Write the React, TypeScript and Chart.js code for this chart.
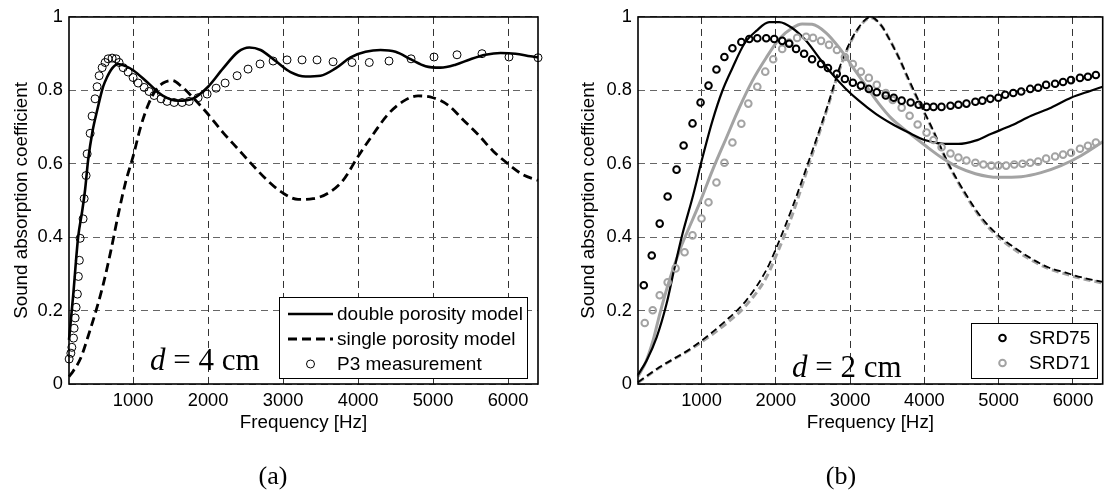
import React, { useEffect, useRef } from 'react';
import { Chart, registerables } from 'chart.js';

Chart.register(...registerables);

const FONT = '"Liberation Sans", Arial, Helvetica, sans-serif';
const SERIF = '"Liberation Serif", "Times New Roman", serif';

// ---------- axes ----------
const xTicks = [1000, 2000, 3000, 4000, 5000, 6000];
const yTicks = [0, 0.2, 0.4, 0.6, 0.8, 1];
const xMin = 145;
const xMax = 6400;
const xTitle = 'Frequency [Hz]';
const yTitle = 'Sound absorption coefficient';

// ---------- panel (a) ----------
const aDoubleF = [145, 200, 267, 320, 360, 400, 460, 520, 600, 650, 720, 800, 900, 1000, 1200, 1400, 1600, 1800, 2000, 2200, 2400, 2550, 2700, 2900, 3100, 3300, 3500, 3700, 3900, 4100, 4300, 4500, 4700, 4900, 5100, 5300, 5500, 5700, 5900, 6100, 6300, 6400];
const aDoubleV = [0.12, 0.24, 0.40, 0.47, 0.53, 0.61, 0.69, 0.745, 0.81, 0.835, 0.86, 0.872, 0.866, 0.855, 0.82, 0.785, 0.772, 0.778, 0.81, 0.86, 0.905, 0.917, 0.91, 0.88, 0.85, 0.838, 0.84, 0.86, 0.89, 0.905, 0.91, 0.905, 0.885, 0.866, 0.862, 0.87, 0.885, 0.897, 0.902, 0.9, 0.893, 0.89];

const aSingleF = [145, 200, 300, 400, 520, 600, 700, 800, 900, 1000, 1100, 1200, 1300, 1400, 1520, 1650, 1800, 2000, 2200, 2400, 2600, 2800, 3000, 3200, 3400, 3600, 3800, 4000, 4200, 4400, 4600, 4800, 5000, 5200, 5400, 5600, 5800, 6000, 6200, 6400];
const aSingleV = [0.02, 0.035, 0.07, 0.13, 0.21, 0.27, 0.36, 0.46, 0.55, 0.62, 0.70, 0.76, 0.80, 0.82, 0.827, 0.81, 0.78, 0.735, 0.685, 0.64, 0.595, 0.553, 0.52, 0.503, 0.505, 0.52, 0.555, 0.62, 0.68, 0.735, 0.77, 0.785, 0.78, 0.76, 0.72, 0.68, 0.635, 0.6, 0.57, 0.555];

const aP3F = [147, 170, 183, 205, 213, 227, 240, 257, 270, 283, 293, 333, 347, 373, 387, 427, 453, 493, 520, 547, 587, 627, 667, 720, 773, 813, 867, 933, 1000, 1067, 1147, 1213, 1280, 1373, 1453, 1547, 1653, 1747, 1867, 1987, 2107, 2227, 2387, 2533, 2693, 2867, 3053, 3253, 3453, 3667, 3920, 4150, 4413, 4707, 5013, 5320, 5653, 6013, 6400];
const aP3V = [0.068, 0.084, 0.10, 0.125, 0.152, 0.18, 0.209, 0.245, 0.293, 0.337, 0.397, 0.45, 0.505, 0.568, 0.627, 0.683, 0.73, 0.777, 0.81, 0.84, 0.862, 0.876, 0.886, 0.888, 0.886, 0.876, 0.862, 0.85, 0.835, 0.82, 0.808, 0.797, 0.786, 0.777, 0.77, 0.767, 0.767, 0.77, 0.78, 0.79, 0.806, 0.82, 0.84, 0.858, 0.872, 0.88, 0.883, 0.883, 0.883, 0.878, 0.876, 0.876, 0.88, 0.886, 0.891, 0.897, 0.9, 0.891, 0.889];

// ---------- panel (b) ----------
const bSrd75F = [223, 330, 437, 544, 664, 759, 879, 987, 1094, 1201, 1308, 1416, 1536, 1643, 1751, 1871, 1979, 2086, 2180, 2273, 2381, 2488, 2609, 2702, 2820, 2930, 3037, 3145, 3252, 3359, 3480, 3587, 3694, 3815, 3922, 4029, 4123, 4230, 4351, 4458, 4566, 4686, 4780, 4887, 4995, 5088, 5196, 5303, 5424, 5531, 5638, 5759, 5866, 5973, 6094, 6201, 6308];
const bSrd75V = [0.269, 0.35, 0.437, 0.511, 0.584, 0.65, 0.71, 0.767, 0.813, 0.857, 0.891, 0.915, 0.932, 0.94, 0.942, 0.942, 0.94, 0.935, 0.927, 0.913, 0.9, 0.885, 0.872, 0.861, 0.845, 0.831, 0.821, 0.813, 0.804, 0.795, 0.786, 0.78, 0.772, 0.767, 0.761, 0.755, 0.755, 0.755, 0.758, 0.761, 0.764, 0.769, 0.772, 0.777, 0.78, 0.788, 0.793, 0.797, 0.804, 0.807, 0.815, 0.818, 0.823, 0.828, 0.834, 0.837, 0.842];

const bSrd71F = [236, 343, 437, 544, 651, 772, 879, 1000, 1094, 1201, 1308, 1416, 1536, 1630, 1751, 1858, 1965, 2086, 2180, 2287, 2408, 2501, 2609, 2716, 2823, 2930, 3037, 3145, 3252, 3359, 3480, 3574, 3694, 3801, 3909, 4029, 4123, 4231, 4351, 4458, 4566, 4686, 4794, 4901, 4995, 5100, 5210, 5320, 5424, 5531, 5638, 5759, 5866, 5973, 6094, 6201, 6308];
const bSrd71V = [0.166, 0.201, 0.242, 0.277, 0.315, 0.359, 0.405, 0.451, 0.495, 0.549, 0.603, 0.658, 0.709, 0.764, 0.81, 0.851, 0.885, 0.913, 0.93, 0.943, 0.946, 0.943, 0.935, 0.924, 0.91, 0.891, 0.872, 0.851, 0.834, 0.815, 0.793, 0.774, 0.753, 0.731, 0.707, 0.685, 0.665, 0.645, 0.628, 0.617, 0.609, 0.603, 0.598, 0.595, 0.595, 0.595, 0.598, 0.6, 0.603, 0.606, 0.614, 0.62, 0.625, 0.63, 0.641, 0.649, 0.658];

const bModel75F = [145, 263, 397, 531, 638, 745, 879, 1013, 1147, 1281, 1416, 1576, 1737, 1911, 2046, 2220, 2408, 2582, 2756, 2944, 3118, 3346, 3560, 3788, 4016, 4231, 4458, 4686, 4901, 5169, 5437, 5705, 5973, 6241, 6400];
const bModel75V = [0.025, 0.065, 0.128, 0.22, 0.318, 0.41, 0.508, 0.617, 0.717, 0.799, 0.861, 0.927, 0.962, 0.986, 0.986, 0.97, 0.935, 0.889, 0.845, 0.804, 0.772, 0.736, 0.709, 0.685, 0.664, 0.655, 0.654, 0.663, 0.682, 0.704, 0.731, 0.753, 0.78, 0.799, 0.81];

const bModel71F = [145, 250, 350, 437, 571, 705, 799, 973, 1147, 1335, 1509, 1684, 1871, 2046, 2220, 2354, 2488, 2676, 2850, 3024, 3212, 3386, 3560, 3788, 4016, 4231, 4458, 4686, 4995, 5303, 5571, 5839, 6107, 6400];
const bModel71V = [0.02, 0.06, 0.12, 0.19, 0.285, 0.364, 0.41, 0.492, 0.582, 0.671, 0.753, 0.826, 0.889, 0.94, 0.97, 0.981, 0.98, 0.957, 0.917, 0.867, 0.813, 0.764, 0.723, 0.685, 0.649, 0.617, 0.59, 0.573, 0.563, 0.565, 0.576, 0.595, 0.622, 0.66];

const bSingle75F = [145, 437, 879, 1335, 1603, 1871, 2005, 2220, 2448, 2676, 2890, 3078, 3280, 3426, 3500, 3654, 3800, 3922, 4097, 4324, 4552, 4767, 4995, 5223, 5437, 5665, 5893, 6107, 6400];
const bSingle75V = [0.005, 0.046, 0.10, 0.174, 0.228, 0.31, 0.37, 0.48, 0.61, 0.745, 0.88, 0.96, 1.0, 0.975, 0.95, 0.89, 0.825, 0.772, 0.70, 0.6, 0.519, 0.454, 0.405, 0.37, 0.342, 0.318, 0.304, 0.291, 0.278];

const bSingle71F = [145, 437, 879, 1335, 1603, 1871, 2005, 2220, 2448, 2676, 2890, 3078, 3280, 3426, 3500, 3654, 3800, 3922, 4097, 4324, 4552, 4767, 4995, 5223, 5437, 5665, 5893, 6107, 6400];
const bSingle71V = [0.004, 0.045, 0.098, 0.165, 0.215, 0.29, 0.35, 0.46, 0.60, 0.74, 0.875, 0.958, 0.998, 0.975, 0.95, 0.89, 0.822, 0.77, 0.698, 0.598, 0.516, 0.45, 0.4, 0.365, 0.338, 0.315, 0.3, 0.288, 0.275];

type Series = {
  label: string;
  f: number[];
  v: number[];
  color: string;
  width: number;
  dash?: number[];
  points?: boolean;
  radius?: number;
  order: number;
};

const GRAY = '#a3a3a3';

const seriesA: Series[] = [
  { label: 'double porosity model', f: aDoubleF, v: aDoubleV, color: '#000', width: 2.6, order: 2 },
  { label: 'single porosity model', f: aSingleF, v: aSingleV, color: '#000', width: 2.8, dash: [9, 5], order: 3 },
  { label: 'P3 measurement', f: aP3F, v: aP3V, color: '#000', width: 1, points: true, radius: 4, order: 1 },
];

const seriesB: Series[] = [
  { label: 'SRD75', f: bSrd75F, v: bSrd75V, color: '#000', width: 2, points: true, radius: 3.3, order: 1 },
  { label: 'SRD71', f: bSrd71F, v: bSrd71V, color: GRAY, width: 2, points: true, radius: 3.3, order: 2 },
  { label: 'SRD75 model', f: bModel75F, v: bModel75V, color: '#000', width: 2.2, order: 3 },
  { label: 'SRD71 model', f: bModel71F, v: bModel71V, color: GRAY, width: 3, order: 4 },
  { label: 'SRD75 single', f: bSingle75F, v: bSingle75V, color: '#000', width: 1.8, dash: [7, 4], order: 5 },
  { label: 'SRD71 single', f: bSingle71F, v: bSingle71V, color: GRAY, width: 3, dash: [7, 4], order: 6 },
];

type LegendCfg = { items: number[]; right: number; bottom: number; width: number; height: number; firstRow: number; rowGap: number };

type PanelProps = {
  left: number;
  width: number;
  series: Series[];
  yAxisW: number;
  yTitlePad: number;
  padRight: number;
  legend: LegendCfg;
  noteRest: string;
  noteDx: number;
  noteDy: number;
  tag: string;
  tagDx: number;
};

function makeDecor(p: PanelProps) {
  return {
    id: 'decor',
    afterDatasetsDraw(chart: any) {
      const ctx: CanvasRenderingContext2D = chart.ctx;
      const a = chart.chartArea;
      ctx.save();
      // annotation d = .. cm
      ctx.fillStyle = '#000';
      ctx.textAlign = 'left';
      ctx.textBaseline = 'alphabetic';
      let x = a.left + p.noteDx;
      const by0 = a.bottom - p.noteDy;
      ctx.font = `italic 31px ${SERIF}`;
      ctx.fillText('d', x, by0);
      x += ctx.measureText('d').width;
      ctx.font = `31px ${SERIF}`;
      ctx.fillText(p.noteRest, x, by0);

      // legend box
      const L = p.legend;
      const bx = Math.round(a.right - L.right - L.width);
      const by = Math.round(a.bottom - L.bottom - L.height);
      ctx.fillStyle = '#fff';
      ctx.fillRect(bx, by, L.width, L.height);
      ctx.lineWidth = 1;
      ctx.strokeStyle = '#000';
      ctx.setLineDash([]);
      ctx.strokeRect(bx + 0.5, by + 0.5, L.width, L.height);
      L.items.forEach((idx, i) => {
        const ds = chart.data.datasets[idx];
        const cy = by + L.firstRow + i * L.rowGap;
        if (ds.showLine !== false) {
          ctx.beginPath();
          ctx.setLineDash(ds.borderDash || []);
          ctx.lineWidth = ds.borderWidth;
          ctx.strokeStyle = ds.borderColor;
          ctx.moveTo(bx + 9, cy);
          ctx.lineTo(bx + 54, cy);
          ctx.stroke();
          ctx.setLineDash([]);
        }
        if (ds.pointRadius > 0) {
          ctx.beginPath();
          ctx.lineWidth = ds.pointBorderWidth;
          ctx.strokeStyle = ds.pointBorderColor;
          ctx.arc(bx + 31.5, cy, ds.pointRadius, 0, Math.PI * 2);
          ctx.stroke();
        }
        ctx.fillStyle = '#000';
        ctx.font = `19px ${FONT}`;
        ctx.textBaseline = 'middle';
        ctx.fillText(ds.label, bx + 58, cy + 1);
      });
      ctx.restore();
    },
    afterDraw(chart: any) {
      const ctx: CanvasRenderingContext2D = chart.ctx;
      const a = chart.chartArea;
      ctx.save();
      ctx.setLineDash([]);
      ctx.lineWidth = 1.6;
      ctx.strokeStyle = '#000';
      ctx.strokeRect(a.left, a.top, a.right - a.left, a.bottom - a.top);
      ctx.fillStyle = '#000';
      ctx.font = `26px ${SERIF}`;
      ctx.textAlign = 'center';
      ctx.textBaseline = 'middle';
      ctx.fillText(p.tag, a.left + p.tagDx, 477);
      ctx.restore();
    },
  };
}

function Panel(p: PanelProps) {
  const ref = useRef<HTMLCanvasElement | null>(null);
  useEffect(() => {
    if (!ref.current) return;
    const datasets = p.series.map((s) => ({
      label: s.label,
      data: s.f.map((fv, i) => ({ x: fv, y: s.v[i] })),
      borderColor: s.color,
      backgroundColor: 'rgba(0,0,0,0)',
      borderWidth: s.width,
      borderDash: s.dash || [],
      showLine: !s.points,
      pointRadius: s.points ? s.radius : 0,
      pointHoverRadius: 0,
      pointBorderWidth: s.points ? s.width : 0,
      pointBorderColor: s.color,
      pointBackgroundColor: 'rgba(0,0,0,0)',
      cubicInterpolationMode: 'monotone',
      fill: false,
      clip: false,
      order: s.order,
    }));
    const chart = new Chart(ref.current, {
      type: 'line',
      data: { datasets: datasets as any },
      options: {
        animation: false,
        responsive: false,
        events: [],
        layout: { padding: { left: 0, top: 16, right: p.padRight, bottom: 0 } },
        plugins: { legend: { display: false }, tooltip: { enabled: false } },
        scales: {
          x: {
            type: 'linear',
            min: xMin,
            max: xMax,
            afterBuildTicks: (axis: any) => {
              axis.ticks = xTicks.map((v) => ({ value: v }));
            },
            afterFit: (scale: any) => {
              scale.height = 107;
            },
            ticks: {
              autoSkip: false,
              maxRotation: 0,
              padding: 6,
              color: '#000',
              font: { family: FONT, size: 18.3 },
              callback: (v: any) => String(v),
            },
            grid: { color: '#333', lineWidth: 1, drawTicks: false },
            border: { display: false, dash: [7, 5] },
            title: {
              display: true,
              text: xTitle,
              color: '#000',
              font: { family: FONT, size: 18.8 },
              padding: { top: 0, bottom: 57 },
            },
          },
          y: {
            type: 'linear',
            min: 0,
            max: 1,
            afterBuildTicks: (axis: any) => {
              axis.ticks = yTicks.map((v) => ({ value: v }));
            },
            afterFit: (scale: any) => {
              scale.width = p.yAxisW;
            },
            ticks: {
              padding: 6,
              color: '#000',
              font: { family: FONT, size: 18.3 },
              callback: (v: any) => String(v),
            },
            grid: { color: '#666', lineWidth: 1, drawTicks: false },
            border: { display: false, dash: [7, 5] },
            title: {
              display: true,
              text: yTitle,
              color: '#000',
              font: { family: FONT, size: 18.8 },
              padding: { top: p.yTitlePad, bottom: 0 },
            },
          },
        },
      } as any,
      plugins: [makeDecor(p) as any],
    });
    return () => chart.destroy();
  }, []);
  return (
    <canvas
      ref={ref}
      width={p.width}
      height={491}
      style={{ position: 'absolute', left: p.left, top: 0, width: p.width, height: 491, display: 'block' }}
    />
  );
}

export default function App() {
  return (
    <div
      style={{
        position: 'absolute',
        left: 0,
        top: 0,
        width: 1105,
        height: 491,
        overflow: 'hidden',
        background: '#fff',
      }}
    >
      <Panel
        left={0}
        width={552}
        series={seriesA}
        yAxisW={69}
        yTitlePad={11}
        padRight={14}
        legend={{ items: [0, 1, 2], right: 11, bottom: 6, width: 248, height: 81, firstRow: 17, rowGap: 25 }}
        noteRest=" = 4 cm"
        noteDx={81}
        noteDy={14}
        tag="(a)"
        tagDx={204}
      />
      <Panel
        left={552}
        width={556}
        series={seriesB}
        yAxisW={86}
        yTitlePad={26}
        padRight={2}
        legend={{ items: [0, 1], right: 6, bottom: 6, width: 126, height: 55, firstRow: 15, rowGap: 25 }}
        noteRest=" = 2 cm"
        noteDx={154}
        noteDy={7}
        tag="(b)"
        tagDx={203}
      />
    </div>
  );
}
